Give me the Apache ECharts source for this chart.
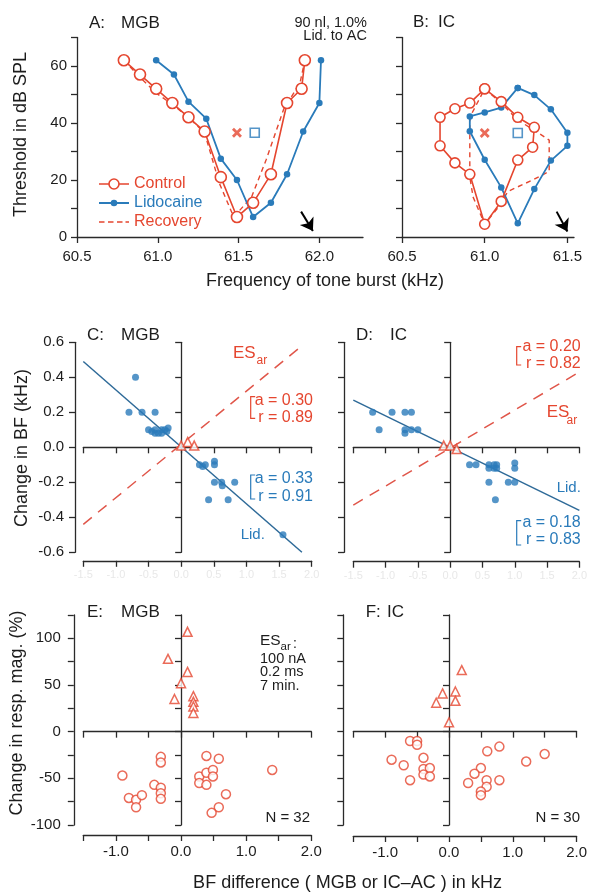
<!DOCTYPE html>
<html><head><meta charset="utf-8">
<script src="https://cdn.jsdelivr.net/npm/echarts@6/dist/echarts.min.js"></script>
<style>html,body{margin:0;padding:0;background:#fff}#c{width:590px;height:895px}</style>
</head><body><div id="c"></div>
<script>
// ---------------- DATA ----------------
// Panel A (MGB tuning curves): [frequency kHz, threshold dB SPL]
const aControl   = [[60.79,62],[60.89,57],[60.99,52],[61.09,47],[61.19,42],[61.29,37],[61.39,21],[61.49,7],[61.59,12],[61.70,22],[61.80,47],[61.89,52],[61.91,62]];
const aLidocaine = [[60.99,62],[61.10,57],[61.19,47.5],[61.30,41.5],[61.39,27.5],[61.49,20],[61.59,7],[61.70,12],[61.80,22],[61.90,37],[62.00,47],[62.01,62]];
const aRecovery  = [[60.79,62],[60.89,56],[60.99,50.5],[61.09,46.5],[61.19,42],[61.29,36.5],[61.38,19],[61.47,7],[61.58,14],[61.67,27],[61.78,45],[61.88,54],[61.91,62]];
const aCtrlBF = [[61.49,36.6]];
const aLidBF  = [[61.60,36.6]];
const aArrow  = [[61.887,8.9],[61.96,2.1]];
// Panel B (IC tuning curves)
const bControl   = [[61.0,52],[60.91,47],[60.82,45],[60.73,42],[60.73,32],[60.82,26],[60.91,22],[61.0,4.5],[61.1,12.5],[61.2,27],[61.29,31.5],[61.3,38.5],[61.2,42],[61.1,47.5],[61.0,52]];
const bLidocaine = [[61.2,52.3],[61.3,49.8],[61.4,44.8],[61.5,36.6],[61.5,32],[61.4,26.8],[61.3,16.8],[61.2,4.8],[61.1,17.4],[61.0,27.1],[60.91,37.1],[60.91,42.3],[61.0,43.7],[61.1,45.4],[61.2,52.3]];
const bRecovery  = [[61.0,52],[61.1,47],[61.2,41],[61.3,37.5],[61.39,34],[61.39,23],[61.29,20],[61.14,16],[61.09,11],[61.0,4.5],[60.93,14],[60.91,21],[60.91,42],[61.0,52]];
const bCtrlBF = [[61.0,36.5]];
const bLidBF  = [[61.2,36.5]];
const bArrow  = [[61.435,8.9],[61.50,1.9]];
// Panel C (MGB change in BF): [BF difference kHz, change in BF kHz]
const cLid = [[-0.7,0.4],[-0.8,0.2],[-0.6,0.2],[-0.4,0.2],[-0.5,0.1],[-0.45,0.09],[-0.4,0.1],[-0.35,0.08],[-0.3,0.1],[-0.25,0.1],[-0.2,0.11],[-0.4,0.08],[-0.3,0.08],[-0.22,0.09],
  [0.28,-0.1],[0.33,-0.11],[0.37,-0.1],[0.51,-0.08],[0.51,-0.1],[0.51,-0.2],[0.62,-0.2],[0.63,-0.22],[0.82,-0.2],[0.42,-0.3],[0.72,-0.3],[1.56,-0.5]];
const cES = [[0,0.01],[0.1,0.03],[0.2,0.01]];
const cLidFit = [[-1.5,0.49],[1.85,-0.6]];
const cESFit  = [[-1.5,-0.44],[1.85,0.58]];
// Panel D (IC change in BF)
const dLid = [[-1.2,0.2],[-1.1,0.1],[-0.9,0.2],[-0.7,0.2],[-0.6,0.2],[-0.7,0.1],[-0.6,0.1],[-0.5,0.1],[-0.7,0.08],
  [0.3,-0.1],[0.4,-0.1],[0.6,-0.1],[0.68,-0.1],[0.72,-0.1],[0.6,-0.12],[0.68,-0.12],[0.72,-0.12],[1.0,-0.09],[1.0,-0.12],[0.6,-0.2],[0.9,-0.2],[1.0,-0.2],[0.7,-0.3]];
const dES = [[-0.1,0.01],[0.0,0.01],[0.1,-0.01]];
const dLidFit = [[-1.5,0.27],[2.0,-0.36]];
const dESFit  = [[-1.5,-0.33],[2.0,0.43]];
// Panel E (MGB change in response magnitude, %)
const eTri  = [[0.1,107],[-0.2,78],[0.1,64],[0.0,52],[-0.1,35],[0.19,38],[0.19,32],[0.19,27],[0.19,20]];
const eCirc = [[-0.9,-47],[-0.8,-71],[-0.69,-73],[-0.69,-81],[-0.6,-68],[-0.41,-57],[-0.31,-27],[-0.31,-33],[-0.31,-60],[-0.31,-66],[-0.31,-72],
  [0.39,-26],[0.58,-29],[0.28,-48],[0.39,-44],[0.49,-41],[0.49,-48],[0.28,-55],[0.39,-57],[0.69,-67],[0.58,-81],[0.47,-87],[1.4,-41]];
// Panel F (IC change in response magnitude, %)
const fTri  = [[0.2,66],[-0.1,41],[0.1,43],[-0.2,31],[0.1,33],[0.0,10]];
const fCirc = [[-0.61,-10],[-0.5,-10],[-0.5,-14],[-0.9,-30],[-0.71,-36],[-0.61,-52],[-0.4,-28],[-0.4,-40],[-0.3,-39],[-0.4,-46],[-0.3,-48],
  [0.6,-21],[0.79,-16],[1.21,-32],[1.5,-24],[0.5,-39],[0.4,-45],[0.3,-55],[0.59,-52],[0.59,-59],[0.5,-64],[0.5,-68],[0.79,-52]];
// Tick values / labels
const tickTC_x = [60.5, 61.0, 61.5, 62.0];
const tickTC_y = [0,10,20,30,40,50,60,70];
const labelTC_y = [0,20,40,60];
const tickBF_x = [-1.5,-1.0,-0.5,0,0.5,1.0,1.5,2.0];
const labelBF_x = [-1,0,1,2];
const tickCh_y = [-0.6,-0.4,-0.2,0,0.2,0.4,0.6];
const tickMag_y = [-100,-75,-50,-25,0,25,50,75,100,125];
const labelMag_y = [-100,-50,0,50,100];

// ---------------- STYLE ----------------
const FONT = '"Liberation Sans", Arial, Helvetica, sans-serif';
const RED = '#e5462f', BLUE = '#2a7bba', BLUE_FIT = '#2e6a98', ES_RED = '#e0564a', AX = '#2a2a2a', TXT = '#1c1c1c';

function axis(dim, o) {
  const a = {
    type: 'value', gridIndex: o.grid, min: o.min, max: o.max,
    position: o.pos || (dim === 'x' ? 'bottom' : 'left'),
    offset: o.offset || 0,
    splitLine: { show: false },
    axisLine: { show: true, onZero: !!o.onZero, lineStyle: { color: AX, width: 1.3 } },
    axisTick: { show: true, customValues: o.ticks, length: 6, lineStyle: { color: AX, width: 1.3 } },
    axisLabel: { show: !!o.labels, color: o.labelColor || TXT, fontSize: o.fontSize || 15, fontFamily: FONT, margin: o.margin || 9,
      formatter: o.fmt || (v => String(v)) }
  };
  if (o.labels) a.axisLabel.customValues = o.labels;
  return a;
}
const f1 = v => v.toFixed(1);

const xAxis = [
  axis('x', {grid:0, min:60.5, max:62.27, ticks:tickTC_x, labels:tickTC_x, fmt:f1, margin:12}),
  axis('x', {grid:1, min:60.5, max:61.54, ticks:tickTC_x.slice(0,3), labels:tickTC_x.slice(0,3), fmt:f1, margin:12}),
  axis('x', {grid:2, min:-1.5, max:2.0, offset:8.5, ticks:tickBF_x, labels:tickBF_x, fmt:f1, labelColor:'#e8e8e8', fontSize:11, margin:9}),
  axis('x', {grid:2, min:-1.5, max:2.0, ticks:tickBF_x, onZero:true}),
  axis('x', {grid:3, min:-1.5, max:2.0, offset:9.4, ticks:tickBF_x, labels:tickBF_x, fmt:f1, labelColor:'#e8e8e8', fontSize:11, margin:9}),
  axis('x', {grid:3, min:-1.5, max:2.0, ticks:tickBF_x, onZero:true}),
  axis('x', {grid:4, min:-1.5, max:2.0, offset:10, ticks:tickBF_x, labels:labelBF_x, fmt:f1, margin:9}),
  axis('x', {grid:4, min:-1.5, max:2.0, ticks:tickBF_x, onZero:true}),
  axis('x', {grid:5, min:-1.5, max:2.0, offset:11, ticks:tickBF_x, labels:labelBF_x, fmt:f1, margin:9}),
  axis('x', {grid:5, min:-1.5, max:2.0, ticks:tickBF_x, onZero:true})
];
const yAxis = [
  axis('y', {grid:0, min:0, max:70, ticks:tickTC_y, labels:labelTC_y, margin:10}),
  axis('y', {grid:1, min:0, max:70, ticks:tickTC_y}),
  axis('y', {grid:2, min:-0.6, max:0.6, offset:8.3, ticks:tickCh_y, labels:tickCh_y, fmt:f1, margin:11}),
  axis('y', {grid:2, min:-0.6, max:0.6, ticks:tickCh_y, onZero:true}),
  axis('y', {grid:3, min:-0.6, max:0.6, offset:9.3, ticks:tickCh_y}),
  axis('y', {grid:3, min:-0.6, max:0.6, ticks:tickCh_y, onZero:true}),
  axis('y', {grid:4, min:-100, max:125, offset:9.5, ticks:tickMag_y, labels:labelMag_y, margin:13}),
  axis('y', {grid:4, min:-100, max:125, ticks:tickMag_y, onZero:true}),
  axis('y', {grid:5, min:-100, max:125, offset:10, ticks:tickMag_y}),
  axis('y', {grid:5, min:-100, max:125, ticks:tickMag_y, onZero:true})
];
const grid = [
  {left:77, top:37.5, width:286, height:199.5},
  {left:402, top:37.5, width:172, height:199.5},
  {left:83.3, top:342.3, width:228.4, height:210},
  {left:353.3, top:342.3, width:227.4, height:210},
  {left:83.3, top:615, width:228, height:210},
  {left:353.3, top:615, width:227, height:210}
];

const XPATH = 'path://M0,2L2,0L5,3L8,0L10,2L7,5L10,8L8,10L5,7L2,10L0,8L3,5Z';
function openCircleLine(name, data, xi, size) {
  return {name, type:'line', data, xAxisIndex:xi, yAxisIndex:xi, symbol:'circle', symbolSize:size, showSymbol:true, z:4,
    lineStyle:{color:RED, width:1.6}, itemStyle:{color:'#fff', borderColor:RED, borderWidth:1.6}};
}
function dotLine(name, data, xi) {
  return {name, type:'line', data, xAxisIndex:xi, yAxisIndex:xi, symbol:'circle', symbolSize:6.5, showSymbol:true, z:3,
    lineStyle:{color:BLUE, width:1.8}, itemStyle:{color:BLUE, borderWidth:0}};
}
function dashLine(name, data, xi) {
  return {name, type:'line', data, xAxisIndex:xi, yAxisIndex:xi, symbol:'none', z:2,
    lineStyle:{color:RED, width:1.4, type:[5,4]}, itemStyle:{color:RED}};
}
function markers(ctrl, lid, arrow, xi) {
  return [
    {type:'scatter', data:ctrl, xAxisIndex:xi, yAxisIndex:xi, symbol:XPATH, symbolSize:10, itemStyle:{color:RED}, z:5},
    {type:'scatter', data:lid, xAxisIndex:xi, yAxisIndex:xi, symbol:'rect', symbolSize:9, itemStyle:{color:'rgba(255,255,255,0)', borderColor:BLUE, borderWidth:1.6}, z:5},
    {type:'lines', coordinateSystem:'cartesian2d', xAxisIndex:xi, yAxisIndex:xi, silent:true, z:6,
      symbol:['none','arrow'], symbolSize:12,
      lineStyle:{color:'#000', width:2, opacity:1, curveness:0},
      data:[{coords:arrow}]}
  ];
}
function fitLine(data, xi, color, dashed) {
  return {type:'line', data, xAxisIndex:xi, yAxisIndex:xi, symbol:'none', z:2,
    lineStyle:{color, width:1.5, type: dashed ? [11,8] : 'solid'}};
}
function scat(data, xi, sym, color, size, open, z) {
  return {type:'scatter', data, xAxisIndex:xi, yAxisIndex:xi, symbol:sym, symbolSize:size, z:z||4,
    itemStyle: open ? {color:'#fff', borderColor:color, borderWidth:1.5} : {color, borderWidth:0}};
}

const series = [
  openCircleLine('Control', aControl, 0, 11),
  dotLine('Lidocaine', aLidocaine, 0),
  dashLine('Recovery', aRecovery, 0),
  ...markers(aCtrlBF, aLidBF, aArrow, 0),
  openCircleLine('Control', bControl, 1, 10),
  dotLine('Lidocaine', bLidocaine, 1),
  dashLine('Recovery', bRecovery, 1),
  ...markers(bCtrlBF, bLidBF, bArrow, 1),
  fitLine(cLidFit, 2, BLUE_FIT, false),
  fitLine(cESFit, 2, ES_RED, true),
  scat(cLid, 2, 'circle', BLUE, 7, false),
  scat(cES, 2, 'triangle', RED, 9, true, 5),
  fitLine(dLidFit, 4, BLUE_FIT, false),
  fitLine(dESFit, 4, ES_RED, true),
  scat(dLid, 4, 'circle', BLUE, 7, false),
  scat(dES, 4, 'triangle', RED, 9, true, 5),
  scat(eTri, 6, 'triangle', RED, 9, true),
  scat(eCirc, 6, 'circle', RED, 9, true),
  scat(fTri, 8, 'triangle', RED, 9, true),
  scat(fCirc, 8, 'circle', RED, 9, true)
];

// ---------------- TEXT ----------------
const R90 = Math.PI / 2;
function T(x, y, s, o) {
  o = o || {};
  return {type:'text', x, y, rotation:o.rot||0, silent:true, z:10,
    style:{text:s, fill:o.color||TXT, font:(o.size||15)+'px '+FONT, align:o.align||'left', verticalAlign:'middle'}};
}
function bracket(x, y1, y2, color) {
  return {type:'polyline', silent:true, z:10, shape:{points:[[x+4.5,y1],[x,y1],[x,y2],[x+4.5,y2]]},
    style:{stroke:color, lineWidth:1.2, fill:null}};
}
const graphic = [
  T(89,23,'A:',{size:17}), T(121,23,'MGB',{size:17}),
  T(367,22.5,'90 nl, 1.0%',{align:'right',size:14.5}), T(367,36,'Lid. to AC',{align:'right',size:14.5}),
  T(413,22.5,'B:',{size:17}), T(438,22.5,'IC',{size:17}),
  T(21,134.5,'Threshold in dB SPL',{rot:R90,align:'center',size:18}),
  T(325,281,'Frequency of tone burst (kHz)',{align:'center',size:18}),

  T(87,335.5,'C:',{size:17}), T(121,335.5,'MGB',{size:17}),
  T(233,353,'ES',{color:RED,size:17}), T(256.5,361,'ar',{color:RED,size:12}),
  bracket(250.7,396.7,418.3,RED),
  T(313,400.5,'a = 0.30',{align:'right',color:RED,size:16}), T(313,417.5,'r = 0.89',{align:'right',color:RED,size:16}),
  bracket(250.7,475,499,BLUE),
  T(313,479,'a = 0.33',{align:'right',color:BLUE,size:16}), T(313,497,'r = 0.91',{align:'right',color:BLUE,size:16}),
  T(240.7,535.3,'Lid.',{color:BLUE,size:15}),
  T(21.7,448,'Change in BF (kHz)',{rot:R90,align:'center',size:18}),

  T(356,335.5,'D:',{size:17}), T(390,335.5,'IC',{size:17}),
  bracket(516.7,346.7,365,RED),
  T(580.7,347,'a = 0.20',{align:'right',color:RED,size:16}), T(580.7,363.5,'r = 0.82',{align:'right',color:RED,size:16}),
  T(546.7,412.5,'ES',{color:RED,size:17}), T(566.5,420.5,'ar',{color:RED,size:12}),
  T(556.7,488.3,'Lid.',{color:BLUE,size:15}),
  bracket(516.7,520.7,545,BLUE),
  T(580.7,523,'a = 0.18',{align:'right',color:BLUE,size:16}), T(580.7,540,'r = 0.83',{align:'right',color:BLUE,size:16}),

  T(87,612.5,'E:',{size:17}), T(121,612.5,'MGB',{size:17}),
  T(260,640.5,'ES',{size:15.5}), T(280.5,646.5,'ar',{size:11.5}), T(293,644.5,':',{size:14}),
  T(260,659,'100 nA',{size:14.5}), T(260,672.3,'0.2 ms',{size:14.5}), T(260,685.7,'7 min.',{size:14.5}),
  T(310,818,'N = 32',{align:'right',size:15}),
  T(17.5,713,'Change in resp. mag. (%)',{rot:R90,align:'center',size:18}),

  T(365.7,612.5,'F:',{size:17}), T(387,612.5,'IC',{size:17}),
  T(580,818,'N = 30',{align:'right',size:15}),
  T(347.5,883,'BF difference ( MGB or IC\u2013AC ) in kHz',{align:'center',size:18})
];

// Legend icons (line with open circle / line with dot / dashed line)
const ICON_CTRL = 'path://M0,6.2h9.6v1.6h-9.6z M20.4,6.2h9.6v1.6h-9.6z M15,1.2a5.8,5.8 0 1 1 -0.01,0z M15,2.8a4.2,4.2 0 1 0 0.01,0z';
const ICON_LID  = 'path://M0,6.1h30v1.8h-30z M15,3.7a3.3,3.3 0 1 1 -0.01,0z M15,1.2h0.01v0.01h-0.01z M15,12.8h0.01v0.01h-0.01z';
const ICON_REC  = 'path://M0,6.3h5.5v1.4h-5.5z M9,6.3h5.5v1.4h-5.5z M18,6.3h5.5v1.4h-5.5z M26.5,6.3h3.5v1.4h-3.5z M0,1.2h0.01v0.01h-0.01z M0,12.8h0.01v0.01h-0.01z';

const chart = echarts.init(document.getElementById('c'), null, {renderer:'canvas'});
chart.setOption({
  animation:false,
  backgroundColor:'#fff',
  textStyle:{fontFamily:FONT},
  grid, xAxis, yAxis, series, graphic,
  legend:{
    left:94, top:171, orient:'vertical', itemWidth:30, itemHeight:14, itemGap:3, selectedMode:false,
    textStyle:{fontSize:16, fontFamily:FONT, lineHeight:16},
    data:[
      {name:'Control', icon:ICON_CTRL, itemStyle:{color:RED, borderWidth:0}, textStyle:{color:RED}},
      {name:'Lidocaine', icon:ICON_LID, itemStyle:{color:BLUE, borderWidth:0}, textStyle:{color:BLUE}},
      {name:'Recovery', icon:ICON_REC, itemStyle:{color:RED, borderWidth:0}, textStyle:{color:RED}}
    ]
  }
});
</script></body></html>
